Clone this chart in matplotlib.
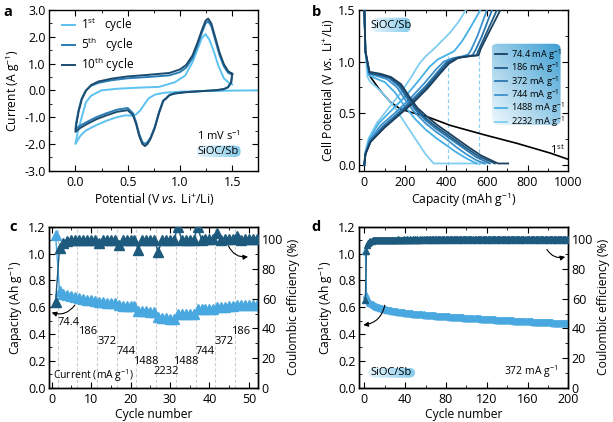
import numpy as np
import matplotlib
matplotlib.use('Agg')
import matplotlib.pyplot as plt
from matplotlib.patches import FancyBboxPatch
from matplotlib.colors import LinearSegmentedColormap
from matplotlib.ticker import MultipleLocator

# ---------------- (a) cyclic voltammetry ----------------
cv1_v = [1.75, 1.50, 1.20, 1.00, 0.85, 0.76, 0.70, 0.66, 0.62, 0.58, 0.54, 0.48, 0.40, 0.30, 0.20, 0.10, 0.05, 0.00,
         0.02, 0.05, 0.10, 0.15, 0.25, 0.40, 0.60, 0.80, 0.95, 1.05, 1.12, 1.17, 1.21, 1.245, 1.28, 1.32, 1.37, 1.42, 1.47, 1.50]
cv1_i = [0.0, -0.01, -0.03, -0.05, -0.09, -0.16, -0.30, -0.52, -0.75, -0.90, -0.95, -0.93, -1.0, -1.13, -1.30, -1.50, -1.68, -2.0,
         -1.6, -1.15, -0.45, -0.2, 0.0, 0.06, 0.10, 0.13, 0.30, 0.55, 1.05, 1.55, 1.95, 2.1, 1.9, 1.5, 0.9, 0.45, 0.28, 0.22]
cv_loop_v = [1.50, 1.49, 1.46, 1.42, 1.35, 1.20, 1.05, 0.95, 0.90, 0.87, 0.84, 0.80, 0.76, 0.72, 0.69, 0.665, 0.64, 0.61,
             0.58, 0.55, 0.50, 0.40, 0.30, 0.20, 0.10, 0.04, 0.00,
             0.01, 0.03, 0.06, 0.10, 0.15, 0.22, 0.35, 0.50, 0.70, 0.90, 1.00, 1.06, 1.12, 1.17, 1.21, 1.245, 1.27, 1.30,
             1.34, 1.38, 1.42, 1.46, 1.50]
cv5_i = [0.58, 0.28, 0.11, 0.04, 0.0, -0.03, -0.07, -0.11, -0.17, -0.28, -0.38, -0.8, -1.35, -1.75, -1.93, -2.0, -1.93, -1.62,
         -1.18, -0.85, -0.66, -0.72, -0.85, -1.0, -1.2, -1.33, -1.45,
         -1.15, -0.75, -0.3, 0.0, 0.17, 0.28, 0.38, 0.45, 0.5, 0.56, 0.68, 0.85, 1.2, 1.7, 2.15, 2.5, 2.58, 2.4,
         1.85, 1.3, 0.9, 0.66, 0.58]
cv10_i = [0.62, 0.30, 0.12, 0.05, 0.01, -0.03, -0.07, -0.12, -0.18, -0.30, -0.40, -0.85, -1.4, -1.8, -2.0, -2.08, -2.0, -1.7,
          -1.25, -0.92, -0.74, -0.80, -0.93, -1.08, -1.28, -1.42, -1.55,
          -1.25, -0.8, -0.35, -0.02, 0.2, 0.33, 0.44, 0.52, 0.58, 0.65, 0.78, 0.95, 1.3, 1.8, 2.25, 2.6, 2.68, 2.5,
          1.95, 1.4, 0.98, 0.72, 0.62]
cv_labels = [r'1$^{\rm st}$   cycle', r'5$^{\rm th}$   cycle', r'10$^{\rm th}$ cycle']

# ---------------- (b) galvanostatic profiles ----------------
rate_labels = ['74.4', '186', '372', '744', '1488', '2232']
first_q = [0, 5, 15, 30, 77, 126, 175, 241, 300, 421, 585, 749, 913, 1000]
first_v = [1.5, 1.1, 0.92, 0.85, 0.72, 0.61, 0.54, 0.50, 0.47, 0.38, 0.29, 0.205, 0.11, 0.05]

d74_q = [0, 5, 25, 80, 130, 180, 220, 260, 310, 360, 410, 460, 510, 570, 655, 705]
d74_v = [1.5, 1.1, 0.90, 0.88, 0.85, 0.78, 0.66, 0.55, 0.46, 0.38, 0.31, 0.24, 0.17, 0.09, 0.01, 0.01]
d186_q = [0, 5, 25, 75, 125, 175, 215, 255, 300, 350, 400, 450, 500, 560, 640]
d186_v = [1.5, 1.1, 0.89, 0.87, 0.845, 0.77, 0.65, 0.54, 0.45, 0.37, 0.30, 0.23, 0.16, 0.08, 0.01]
d372_q = [0, 5, 25, 70, 120, 170, 210, 250, 300, 350, 400, 450, 500, 550, 615]
d372_v = [1.5, 1.1, 0.88, 0.87, 0.84, 0.76, 0.64, 0.53, 0.43, 0.35, 0.28, 0.21, 0.14, 0.07, 0.01]
d744_q = [0, 5, 25, 60, 110, 160, 200, 240, 300, 350, 400, 450, 500, 550, 590]
d744_v = [1.5, 1.1, 0.88, 0.86, 0.83, 0.75, 0.63, 0.52, 0.40, 0.32, 0.25, 0.17, 0.10, 0.04, 0.01]
d1488_q = [0, 5, 20, 50, 100, 150, 200, 250, 300, 350, 400, 450, 500, 550]
d1488_v = [1.5, 1.1, 0.87, 0.84, 0.80, 0.70, 0.56, 0.44, 0.34, 0.26, 0.19, 0.12, 0.06, 0.01]
d2232_q = [0, 5, 15, 30, 60, 100, 150, 200, 250, 300, 340, 600]
d2232_v = [1.5, 1.1, 0.85, 0.80, 0.75, 0.67, 0.55, 0.40, 0.25, 0.10, 0.01, 0.01]

c74_q = [0, 5, 30, 100, 170, 240, 310, 370, 415, 460, 530, 560, 570, 600, 667]
c74_v = [0, 0.10, 0.22, 0.36, 0.48, 0.60, 0.74, 0.88, 0.98, 1.035, 1.055, 1.06, 1.12, 1.24, 1.5]
c186_q = [0, 5, 30, 95, 165, 235, 305, 365, 410, 450, 520, 550, 560, 590, 650]
c186_v = [0, 0.10, 0.22, 0.36, 0.48, 0.61, 0.75, 0.89, 0.99, 1.035, 1.055, 1.06, 1.11, 1.24, 1.5]
c372_q = [0, 5, 30, 90, 160, 230, 300, 360, 400, 440, 500, 530, 545, 575, 626]
c372_v = [0, 0.10, 0.23, 0.37, 0.49, 0.62, 0.76, 0.90, 0.99, 1.03, 1.05, 1.06, 1.11, 1.24, 1.5]
c744_q = [0, 5, 25, 80, 150, 220, 290, 350, 390, 430, 480, 510, 525, 555, 601]
c744_v = [0, 0.10, 0.23, 0.38, 0.50, 0.63, 0.78, 0.92, 1.00, 1.03, 1.05, 1.07, 1.12, 1.25, 1.5]
c1488_q = [0, 5, 25, 70, 130, 200, 260, 320, 360, 400, 440, 480, 520, 569]
c1488_v = [0, 0.12, 0.25, 0.40, 0.52, 0.66, 0.80, 0.95, 1.02, 1.06, 1.10, 1.20, 1.33, 1.5]
c2232_q = [0, 5, 20, 60, 120, 180, 230, 270, 300, 340, 380, 420, 460, 498]
c2232_v = [0, 0.12, 0.25, 0.40, 0.55, 0.70, 0.85, 0.98, 1.05, 1.12, 1.20, 1.28, 1.38, 1.5]
plateau_marks = [410, 560]

# ---------------- (c) rate capability ----------------
rate_cycles = list(range(1, 54))
rate_capacity = [1.14, 0.72, 0.70, 0.69, 0.68, 0.675,
                 0.665, 0.66, 0.655, 0.65, 0.645,
                 0.64, 0.635, 0.632, 0.63, 0.628,
                 0.615, 0.612, 0.61, 0.608, 0.606,
                 0.575, 0.57, 0.568, 0.566, 0.565,
                 0.525, 0.52, 0.517, 0.515, 0.513,
                 0.55, 0.549, 0.548, 0.547, 0.546,
                 0.585, 0.587, 0.588, 0.589, 0.59,
                 0.60, 0.603, 0.605, 0.606, 0.607,
                 0.615, 0.617, 0.618, 0.619, 0.62, 0.62, 0.62]
rate_ce = [58.0, 94.0, 97.5, 98.8, 99.3, 99.5, 99.4, 99.6, 99.7, 99.7,
           99.8, 97.7, 99.5, 99.7, 99.8, 99.8, 96.2, 99.4, 99.6, 99.7,
           99.8, 92.8, 99.2, 99.5, 99.7, 99.7, 91.7, 99.3, 99.6, 99.7,
           99.8, 108.0, 99.7, 99.8, 99.8, 99.8, 108.0, 99.8, 99.9, 99.9,
           99.9, 104.5, 99.8, 99.9, 99.9, 99.9, 102.0, 99.8, 99.9, 99.9,
           99.9, 99.9, 99.9]
rate_steps = [1.5, 6.5, 11.5, 16.5, 21.5, 26.5, 31.5, 36.5, 41.5, 46.5]
step_text = ['74.4', '186', '372', '744', '1488', '2232', '1488', '744', '372', '186']
step_x = [4.2, 9.0, 14.1, 19.0, 23.9, 29.1, 34.0, 38.9, 43.7, 47.9]
step_y = [0.487, 0.417, 0.343, 0.268, 0.194, 0.119, 0.194, 0.268, 0.343, 0.417]

# ---------------- (d) long cycling at 372 mA/g ----------------
long_cycles = list(range(1, 201))
long_capacity = [
    1.02, 0.690, 0.665, 0.650, 0.640, 0.632, 0.626, 0.621, 0.616, 0.612,
    0.608, 0.605, 0.602, 0.599, 0.597, 0.594, 0.592, 0.590, 0.588, 0.586,
    0.584, 0.582, 0.581, 0.579, 0.578, 0.576, 0.575, 0.573, 0.572, 0.571,
    0.570, 0.568, 0.567, 0.566, 0.565, 0.564, 0.563, 0.562, 0.561, 0.560,
    0.559, 0.558, 0.557, 0.556, 0.556, 0.555, 0.554, 0.553, 0.552, 0.552,
    0.551, 0.550, 0.549, 0.549, 0.548, 0.547, 0.547, 0.546, 0.545, 0.545,
    0.544, 0.543, 0.543, 0.542, 0.541, 0.541, 0.540, 0.540, 0.539, 0.538,
    0.538, 0.537, 0.537, 0.536, 0.535, 0.535, 0.534, 0.534, 0.533, 0.533,
    0.532, 0.532, 0.531, 0.530, 0.530, 0.529, 0.529, 0.528, 0.528, 0.527,
    0.527, 0.526, 0.526, 0.525, 0.525, 0.524, 0.524, 0.523, 0.523, 0.522,
    0.522, 0.521, 0.521, 0.520, 0.520, 0.519, 0.519, 0.518, 0.518, 0.517,
    0.517, 0.516, 0.516, 0.515, 0.515, 0.514, 0.514, 0.513, 0.513, 0.512,
    0.512, 0.511, 0.511, 0.510, 0.510, 0.510, 0.509, 0.509, 0.508, 0.508,
    0.507, 0.507, 0.506, 0.506, 0.506, 0.505, 0.505, 0.504, 0.504, 0.503,
    0.503, 0.503, 0.502, 0.502, 0.501, 0.501, 0.500, 0.500, 0.500, 0.499,
    0.499, 0.498, 0.498, 0.498, 0.497, 0.497, 0.496, 0.496, 0.496, 0.495,
    0.495, 0.494, 0.494, 0.494, 0.493, 0.493, 0.492, 0.492, 0.492, 0.491,
    0.491, 0.490, 0.490, 0.490, 0.489, 0.489, 0.488, 0.488, 0.488, 0.487,
    0.487, 0.487, 0.486, 0.486, 0.485, 0.485, 0.485, 0.484, 0.484, 0.484,
    0.483, 0.483, 0.482, 0.482, 0.482, 0.481, 0.481, 0.481, 0.480, 0.480]
long_ce = [
    59.0, 92.0, 96.5, 97.8, 98.5, 98.9, 99.1, 99.3, 99.4, 99.5,
    99.6, 99.7, 99.6, 99.7, 99.7, 99.6, 99.7, 99.8, 99.7, 99.7,
    99.8, 99.7, 99.8, 99.7, 99.8, 99.8, 99.7, 99.8, 99.8, 99.7,
    99.8, 99.8, 99.9, 99.8, 99.8, 99.7, 99.8, 99.8, 99.9, 99.8,
    99.8, 99.9, 99.8, 99.8, 99.9, 99.8, 99.8, 99.9, 99.8, 99.9,
    99.8, 99.9, 99.8, 99.8, 99.9, 99.8, 99.9, 99.9, 99.8, 99.9,
    99.9, 99.8, 99.9, 99.9, 99.8, 99.9, 99.9, 99.8, 99.9, 99.9,
    99.8, 99.9, 99.9, 99.9, 99.8, 99.9, 99.9, 99.9, 99.8, 99.9,
    99.9, 99.9, 99.8, 99.9, 99.9, 99.9, 99.8, 99.9, 99.9, 99.9,
    99.9, 99.8, 99.9, 99.9, 99.9, 99.8, 99.9, 99.9, 99.9, 99.9,
    99.8, 99.9, 99.9, 99.9, 99.9, 99.8, 99.9, 99.9, 99.9, 99.8,
    99.9, 99.9, 99.9, 99.9, 99.8, 99.9, 99.9, 99.9, 99.9, 99.8,
    99.9, 99.9, 99.9, 99.8, 99.9, 99.9, 99.9, 99.9, 99.8, 99.9,
    99.9, 99.9, 99.9, 99.8, 99.9, 99.9, 99.9, 99.9, 99.8, 99.9,
    99.9, 99.9, 99.8, 99.9, 99.9, 99.9, 99.9, 99.8, 99.9, 99.9,
    99.9, 99.9, 99.8, 99.9, 99.9, 99.9, 99.8, 99.9, 99.9, 99.9,
    99.9, 99.8, 99.9, 99.9, 99.9, 99.9, 99.8, 99.9, 99.9, 99.9,
    99.8, 99.9, 99.9, 99.9, 99.9, 99.8, 99.9, 99.9, 99.9, 99.8,
    99.9, 99.9, 99.9, 99.9, 99.8, 99.9, 99.9, 99.9, 99.8, 99.9,
    99.9, 99.9, 99.9, 99.8, 99.9, 99.9, 99.9, 99.8, 99.9, 99.9]

CV_COLORS = ['#5cc2ef', '#2a7cb6', '#1c4d70']
RATE_COLORS = ['#1b3f5e', '#1d5b86', '#2a77b0', '#3b92cf', '#45afe6', '#80cdf2']
CAP_COLOR = '#4aa8e0'
CE_COLOR = '#1e5a7e'

TICK_FS = 9
LABEL_FS = 8.7

plt.rcParams['font.family'] = ['Open Sans', 'DejaVu Sans']
plt.rcParams['font.size'] = 8
plt.rcParams['mathtext.fontset'] = 'custom'
plt.rcParams['mathtext.rm'] = 'Open Sans'
plt.rcParams['mathtext.it'] = 'Open Sans:italic'
plt.rcParams['axes.unicode_minus'] = False
plt.rcParams['axes.linewidth'] = 1.0
plt.rcParams['axes.labelsize'] = LABEL_FS
plt.rcParams['xtick.direction'] = 'in'
plt.rcParams['ytick.direction'] = 'in'
plt.rcParams['xtick.major.size'] = 4
plt.rcParams['ytick.major.size'] = 4
plt.rcParams['xtick.minor.size'] = 2
plt.rcParams['ytick.minor.size'] = 2
plt.rcParams['xtick.major.pad'] = 3.5
plt.rcParams['ytick.major.pad'] = 2.5


def gradient_box(ax, x, y, w, h, c0, c1, diag=False, z=1):
    """Rounded box filled with a soft blue gradient (axes coordinates)."""
    box = FancyBboxPatch((x, y), w, h, boxstyle='round,pad=0,rounding_size=0.03',
                         transform=ax.transAxes, facecolor='none', edgecolor='none', zorder=z)
    ax.add_patch(box)
    gx, gy = np.meshgrid(np.linspace(0, 1, 64), np.linspace(0, 1, 64))
    g = (gx + gy) / 2 if diag else gx
    cmap = LinearSegmentedColormap.from_list('grad', [c0, c1])
    im = ax.imshow(g, extent=(x, x + w, y, y + h), origin='lower', cmap=cmap, aspect='auto',
                   transform=ax.transAxes, zorder=z, interpolation='bilinear')
    im.set_clip_path(box)


def style_axis(ax, top=True, right=True):
    ax.tick_params(which='both', top=top, right=right, labelsize=TICK_FS)


def panel_a(ax):
    ax.plot(cv1_v, cv1_i, color=CV_COLORS[0], lw=1.4, label=cv_labels[0])
    ax.plot(cv_loop_v, cv5_i, color=CV_COLORS[1], lw=1.4, label=cv_labels[1])
    ax.plot(cv_loop_v, cv10_i, color=CV_COLORS[2], lw=1.4, label=cv_labels[2])
    ax.set_xlim(-0.25, 1.75)
    ax.set_ylim(-3.0, 3.0)
    ax.xaxis.set_major_locator(MultipleLocator(0.5))
    ax.xaxis.set_minor_locator(MultipleLocator(0.25))
    ax.yaxis.set_major_locator(MultipleLocator(1.0))
    ax.yaxis.set_minor_locator(MultipleLocator(0.5))
    ax.yaxis.set_major_formatter(plt.FormatStrFormatter('%.1f'))
    style_axis(ax)
    ax.set_xlabel(r'Potential (V $\mathit{vs.}$ Li$^{+}$/Li)', labelpad=1.5)
    ax.set_ylabel(r'Current (A g$^{-1}$)', labelpad=2)
    ax.legend(loc='upper left', bbox_to_anchor=(0.06, 0.965), frameon=False, handlelength=1.1,
              handletextpad=0.5, labelspacing=0.12, borderaxespad=0, borderpad=0, fontsize=8.5)
    ax.text(0.81, 0.215, r'1 mV s$^{-1}$', transform=ax.transAxes, ha='center', va='center', fontsize=8)
    gradient_box(ax, 0.705, 0.085, 0.21, 0.072, '#e6f5fc', '#86cbeb')
    ax.text(0.81, 0.121, 'SiOC/Sb', transform=ax.transAxes, ha='center', va='center', zorder=3, fontsize=8)


def panel_b(ax):
    for x in plateau_marks:
        ax.plot([x, x], [0, 1.05], color='#8fd0f0', lw=0.9, ls=(0, (3, 2)), zorder=1)
    ax.plot(first_q, first_v, color='black', lw=1.2, zorder=2)
    dis = [(d74_q, d74_v), (d186_q, d186_v), (d372_q, d372_v),
           (d744_q, d744_v), (d1488_q, d1488_v), (d2232_q, d2232_v)]
    cha = [(c74_q, c74_v), (c186_q, c186_v), (c372_q, c372_v),
           (c744_q, c744_v), (c1488_q, c1488_v), (c2232_q, c2232_v)]
    handles = []
    for k in range(len(rate_labels))[::-1]:
        ax.plot(dis[k][0], dis[k][1], color=RATE_COLORS[k], lw=1.3, zorder=3)
        h, = ax.plot(cha[k][0], cha[k][1], color=RATE_COLORS[k], lw=1.3, zorder=3)
        handles.append(h)
    handles = handles[::-1]
    ax.set_xlim(-25, 1000)
    ax.set_ylim(-0.06, 1.5)
    ax.xaxis.set_major_locator(MultipleLocator(200))
    ax.xaxis.set_minor_locator(MultipleLocator(100))
    ax.yaxis.set_major_locator(MultipleLocator(0.5))
    ax.yaxis.set_minor_locator(MultipleLocator(0.25))
    ax.yaxis.set_major_formatter(plt.FormatStrFormatter('%.1f'))
    style_axis(ax)
    ax.set_xlabel(r'Capacity (mAh g$^{-1}$)', labelpad=1.5)
    ax.set_ylabel(r'Cell Potential (V $\mathit{vs.}$ Li$^{+}$/Li)', labelpad=2)
    gradient_box(ax, 0.062, 0.86, 0.182, 0.092, '#e6f5fc', '#86cbeb', z=4)
    ax.text(0.153, 0.906, 'SiOC/Sb', transform=ax.transAxes, ha='center', va='center', zorder=5, fontsize=8)
    gradient_box(ax, 0.633, 0.284, 0.33, 0.506, '#f0f9fd', '#3f9fd3', diag=True, z=4)
    leg = ax.legend(handles, [f'{r} mA g$^{{-1}}$' for r in rate_labels], loc='upper left',
                    bbox_to_anchor=(0.649, 0.77), frameon=False, handlelength=1.3,
                    handletextpad=0.4, labelspacing=-0.12, borderaxespad=0, borderpad=0, fontsize=6.7)
    leg.set_zorder(6)
    ax.text(945, 0.14, r'1$^{\rm st}$', ha='center', va='center', zorder=5, fontsize=8)


def twin_setup(ax, ax2, xlim, xmaj, xmin):
    ax.set_xlim(*xlim)
    ax.set_ylim(0, 1.2)
    ax2.set_ylim(0, 108.5)
    ax.xaxis.set_major_locator(MultipleLocator(xmaj))
    ax.xaxis.set_minor_locator(MultipleLocator(xmin))
    ax.yaxis.set_major_locator(MultipleLocator(0.2))
    ax.yaxis.set_minor_locator(MultipleLocator(0.1))
    ax.yaxis.set_major_formatter(plt.FormatStrFormatter('%.1f'))
    ax2.yaxis.set_major_locator(MultipleLocator(20))
    ax2.yaxis.set_minor_locator(MultipleLocator(10))
    ax.tick_params(which='both', top=True, right=False, labelsize=TICK_FS)
    ax2.tick_params(which='both', right=True, labelsize=TICK_FS)
    ax.set_xlabel('Cycle number', labelpad=1.5)
    ax.set_ylabel(r'Capacity (Ah g$^{-1}$)', labelpad=2)
    ax2.set_ylabel('Coulombic efficiency (%)', labelpad=3)


def arrow(ax, start, end, rad):
    ax.annotate('', xy=end, xytext=start,
                arrowprops=dict(arrowstyle='-|>', connectionstyle=f'arc3,rad={rad}',
                                color='black', lw=0.8, mutation_scale=7, shrinkA=0, shrinkB=0))


def panel_c(ax, ax2):
    for x in rate_steps:
        ax.axvline(x, color='#c9ced3', lw=0.8, ls=(0, (3, 2)), zorder=0)
    ax.plot(rate_cycles, rate_capacity, color=CAP_COLOR, marker='^', ms=6.5, lw=1.0, zorder=3)
    ax2.plot(rate_cycles, rate_ce, color=CE_COLOR, marker='^', ms=6.5, lw=1.0, zorder=3)
    twin_setup(ax, ax2, (-0.6, 52.4), 10, 5)
    for t, x, y in zip(step_text, step_x, step_y):
        ax.text(x, y, t, ha='center', va='center', fontsize=8)
    ax.text(0.02, 0.075, r'Current (mA g$^{-1}$)', transform=ax.transAxes, ha='left', va='center', fontsize=7.5)
    arrow(ax, (5.9, 0.616), (0.0, 0.56), -0.35)
    arrow(ax, (44.8, 1.058), (49.8, 0.976), 0.35)


def panel_d(ax, ax2):
    ax.plot(long_cycles, long_capacity, color=CAP_COLOR, marker='^', ms=5, lw=1.0, zorder=3)
    ax2.plot(long_cycles, long_ce, color=CE_COLOR, marker='^', ms=5, lw=1.0, zorder=3)
    twin_setup(ax, ax2, (-5, 200), 40, 20)
    gradient_box(ax, 0.043, 0.062, 0.223, 0.062, '#e6f5fc', '#86cbeb')
    ax.text(0.154, 0.093, 'SiOC/Sb', transform=ax.transAxes, ha='center', va='center', zorder=3, fontsize=8)
    ax.text(0.95, 0.1, r'372 mA g$^{-1}$', transform=ax.transAxes, ha='right', va='center', fontsize=7.5)
    arrow(ax, (20, 0.615), (-1, 0.467), -0.35)
    arrow(ax, (179, 1.03), (197, 0.975), 0.35)


def main():
    fig = plt.figure(figsize=(6.13, 4.22), dpi=100)
    ax_a = fig.add_axes([0.0804, 0.5955, 0.341, 0.3808])
    ax_b = fig.add_axes([0.5861, 0.5955, 0.341, 0.3808])
    ax_c = fig.add_axes([0.0804, 0.0813, 0.341, 0.3815])
    ax_d = fig.add_axes([0.5861, 0.0813, 0.341, 0.3815])
    ax_c2 = ax_c.twinx()
    ax_d2 = ax_d.twinx()

    panel_a(ax_a)
    panel_b(ax_b)
    panel_c(ax_c, ax_c2)
    panel_d(ax_d, ax_d2)

    for letter, x, y in [('a', 0.005, 0.988), ('b', 0.508, 0.988), ('c', 0.015, 0.478), ('d', 0.508, 0.478)]:
        fig.text(x, y, letter, fontsize=10.5, fontweight='bold', va='top', ha='left')

    fig.savefig('out.png', dpi=100)


if __name__ == '__main__':
    main()
